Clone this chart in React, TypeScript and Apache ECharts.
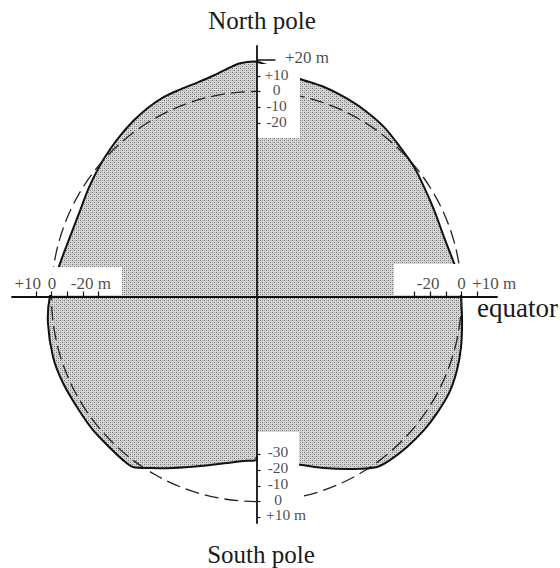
import React, { useEffect, useRef } from "react";
import * as echarts from "echarts";

// Geoid profile: polar angle (deg, counter-clockwise from the right-hand equator) and deviation (m)
const angleDeg = [0, 5.5, 9.6, 17.6, 26, 33.2, 39.4, 46.2, 53, 60, 66.3, 72.1, 78.7, 84, 87.5, 90, 94, 97.5, 101, 105.5, 110, 115, 120, 125, 130, 135, 140, 147, 155, 163, 170.5, 180, 187.2, 196.6, 204.1, 211.6, 219.2, 226, 230.8, 234.1, 238.2, 244, 251.6, 260, 265.3, 270, 270, 282.9, 291.5, 299.5, 305.3, 309.2, 315, 321.4, 327.2, 333.4, 339.9, 346.1, 352.7];
const deviationM = [-0.3, -1.0, -3.0, -5.3, -4.8, -3.1, -0.7, 1.4, 4.5, 6.6, 8.2, 9.6, 10.7, 13.5, 17, 19, 18.3, 15.5, 12.8, 10.8, 10.0, 9.5, 8.0, 6.0, 3.8, 1.6, -0.5, -3.3, -5.8, -5.8, -3.7, 1.0, 3.3, 4.6, 4.4, 3.7, 3.9, 3.6, 3.9, 3.5, -2.0, -9.1, -16.8, -22.9, -25.4, -26.4, -28.0, -21.1, -13.2, -4.4, 2.4, 3.9, 5.0, 5.9, 6.3, 6.6, 5.4, 3.6, 1.4];

// Tick values (m)
const equatorTicks = [10, 0, -10, -20, -30];
const northTicks = [10, 0, -10, -20];
const southTicks = [-30, -20, -10, 0, 10];
const northLongTick = 20;

// Tick labels
const eqLeftValues = [10, 0, -20];
const eqLeftLabels = ["+10", "0", "-20 m"];
const eqRightValues = [-20, 0, 10];
const eqRightLabels = ["-20", "0", "+10 m"];
const northValues = [20, 10, 0, -10, -20];
const northLabels = ["+20 m", "+10", "0", "-10", "-20"];
const southValues = [-30, -20, -10, 0, 10];
const southLabels = ["-30", "-20", "-10", "0", "+10 m"];

const titleNorth = "North pole";
const titleSouth = "South pole";
const titleEquator = "equator";

// layout constants
const CX = 256.5;
const CY = 296.5;
const S = 1.57; // px per metre-unit
const R = 130.6; // reference radius in metre-units (exaggerated drawing scale)
const SERIF = '"Liberation Serif", "Times New Roman", serif';

function makePattern() {
  const c = document.createElement("canvas");
  c.width = 4;
  c.height = 4;
  const ctx = c.getContext("2d")!;
  ctx.fillStyle = "#d6d6d6";
  ctx.fillRect(0, 0, 4, 4);
  ctx.fillStyle = "#6e6e6e";
  ctx.fillRect(0, 0, 1, 1);
  ctx.fillRect(2, 2, 1, 1);
  ctx.fillStyle = "#a4a4a4";
  ctx.fillRect(2, 0, 1, 1);
  ctx.fillRect(0, 2, 1, 1);
  return { image: c, repeat: "repeat", imageWidth: 4, imageHeight: 4 };
}

export default function App() {
  const ref = useRef<HTMLDivElement>(null);
  useEffect(() => {
    const chart = echarts.init(ref.current!, null, { renderer: "svg", width: 560, height: 568 });
    const pattern = makePattern();

    const labelItems: any[] = [];
    eqLeftValues.forEach((v, i) => {
      const t = eqLeftLabels[i];
      const isUnit = t.endsWith(" m");
      labelItems.push({
        value: [-(R + v), 0],
        label: { formatter: t, align: isUnit ? "left" : "center", offset: [isUnit ? -12 : v === 10 ? -8 : 0.5, -13.5] },
      });
    });
    eqRightValues.forEach((v, i) => {
      const t = eqRightLabels[i];
      const isUnit = t.endsWith(" m");
      labelItems.push({
        value: [R + v, 0],
        label: { formatter: t, align: isUnit ? "left" : "center", offset: [isUnit ? -5 : v === -20 ? -2 : 0, -13.5] },
      });
    });
    const stacked = { fontSize: 15.5, lineHeight: 14 };
    northValues.forEach((v, i) => {
      const t = northLabels[i];
      const isUnit = t.endsWith(" m");
      labelItems.push({
        value: [0, R + v],
        label: { ...stacked, fontSize: isUnit ? 17 : 15.5, formatter: t, align: isUnit ? "left" : "center", offset: [isUnit ? 28.5 : 20, isUnit ? -2.5 : -1.5] },
      });
    });
    southValues.forEach((v, i) => {
      const t = southLabels[i];
      const isUnit = t.endsWith(" m");
      labelItems.push({
        value: [0, -(R + v)],
        label: { ...stacked, formatter: t, align: isUnit ? "left" : "center", offset: [isUnit ? 9.5 : 21.5, -2.5] },
      });
    });

    const axisCommon = {
      type: "value",
      z: 10,
      axisLine: { show: true, onZero: true, lineStyle: { color: "#111", width: 1.8 } },
      axisLabel: { show: false },
      splitLine: { show: false },
    };

    const maskRect = (x: number, y: number, w: number, h: number) => ({
      type: "rect",
      z: 5,
      silent: true,
      shape: { x, y, width: w, height: h },
      style: { fill: "#ffffff" },
    });

    chart.setOption({
      animation: false,
      backgroundColor: "#ffffff",
      grid: { left: 12, right: 63, top: 46, bottom: 45 },
      xAxis: {
        ...axisCommon,
        min: (12 - CX) / S,
        max: (497 - CX) / S,
        position: "bottom",
        axisTick: {
          show: true,
          inside: true,
          length: 5,
          customValues: [...equatorTicks.map((v) => -(R + v)), ...equatorTicks.map((v) => R + v)],
          lineStyle: { color: "#111", width: 1.2 },
        },
      },
      yAxis: {
        ...axisCommon,
        min: -(523 - CY) / S,
        max: (CY - 46) / S,
        position: "left",
        axisTick: {
          show: true,
          inside: true,
          length: 4,
          customValues: [...northTicks.map((v) => R + v), ...southTicks.map((v) => -(R + v))],
          lineStyle: { color: "#111", width: 1.2 },
        },
      },
      graphic: [
        maskRect(258, 64, 42, 74),
        maskRect(258, 432, 41, 92),
        maskRect(10, 267, 112, 28),
        maskRect(394, 264, 122, 31),
        {
          type: "text",
          z: 20,
          style: { text: titleNorth, x: 262, y: 20.5, font: `25px ${SERIF}`, fill: "#1a1a1a", align: "center", verticalAlign: "middle", textAlign: "center", textVerticalAlign: "middle" },
        },
        {
          type: "text",
          z: 20,
          style: { text: titleSouth, x: 261, y: 554, font: `25px ${SERIF}`, fill: "#1a1a1a", align: "center", verticalAlign: "middle", textAlign: "center", textVerticalAlign: "middle" },
        },
        {
          type: "text",
          z: 20,
          style: { text: titleEquator, x: 477, y: 308, font: `27px ${SERIF}`, fill: "#1a1a1a", align: "left", verticalAlign: "middle", textAlign: "left", textVerticalAlign: "middle" },
        },
      ],
      series: [
        {
          type: "custom",
          z: 2,
          silent: true,
          clip: false,
          data: [[0, 0]],
          renderItem: (_params: any, api: any) => {
            const pts = angleDeg.map((a, i) => {
              const r = R + deviationM[i];
              const t = (a * Math.PI) / 180;
              return api.coord([r * Math.cos(t), r * Math.sin(t)]);
            });
            const c = api.coord([0, 0]);
            const rr = api.size([R, 0])[0];
            return {
              type: "group",
              children: [
                { type: "polygon", shape: { points: pts, smooth: 0.3 }, style: { fill: pattern, stroke: "#111", lineWidth: 2 } },
                { type: "circle", shape: { cx: c[0], cy: c[1], r: rr }, style: { fill: "none", stroke: "#222", lineWidth: 1.3, lineDash: [14, 6] } },
              ],
            };
          },
        },
        {
          type: "line",
          z: 10,
          silent: true,
          symbol: "none",
          data: [[0, R + northLongTick], [12, R + northLongTick]],
          lineStyle: { color: "#111", width: 1.4 },
        },
        {
          type: "scatter",
          z: 12,
          silent: true,
          symbolSize: 0,
          data: labelItems,
          label: {
            show: true,
            position: "inside",
            verticalAlign: "middle",
            fontSize: 17,
            lineHeight: 14,
            fontFamily: SERIF,
            color: "#1a1a1a",
          },
        },
      ],
    });
    return () => chart.dispose();
  }, []);
  return <div ref={ref} style={{ position: "fixed", left: 0, top: 0, width: 560, height: 568, background: "#fff" }} />;
}
